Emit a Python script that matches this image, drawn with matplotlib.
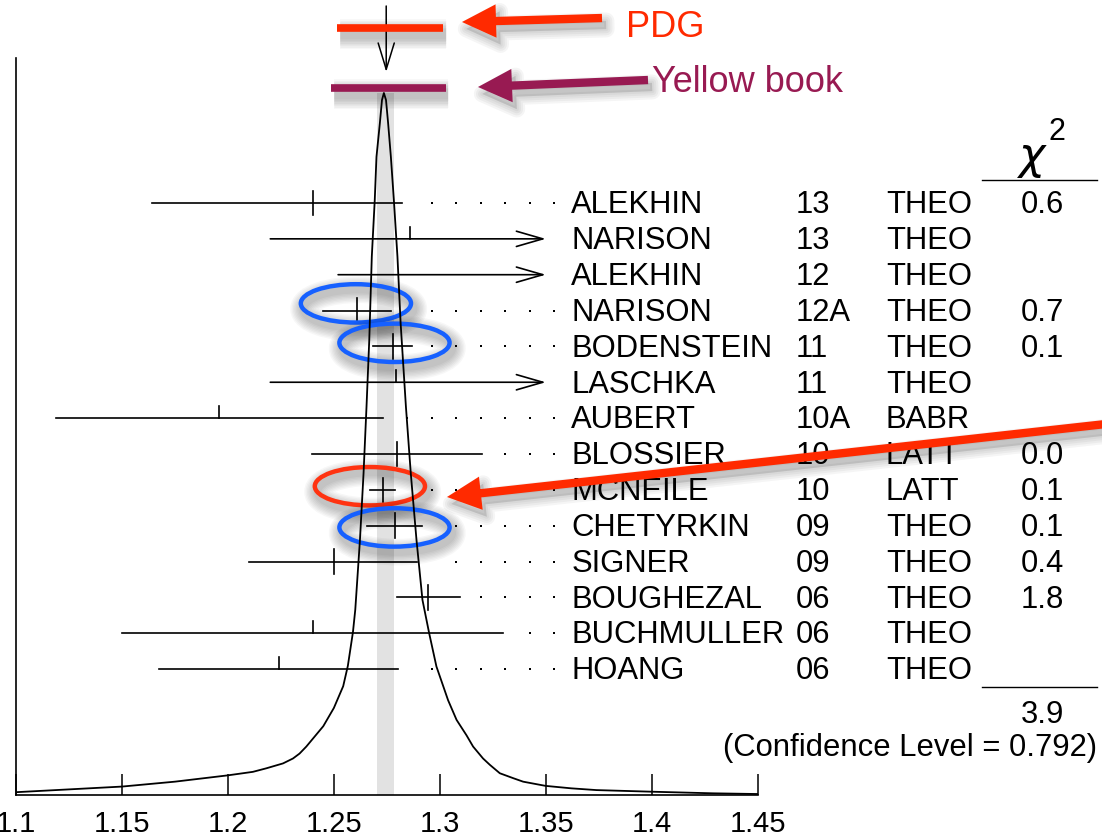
import numpy as np
import matplotlib
matplotlib.use('Agg')
import matplotlib.pyplot as plt
import matplotlib.patheffects as pe
from matplotlib.patches import Ellipse
from matplotlib.transforms import blended_transform_factory

plt.rcParams['font.family'] = ['Liberation Sans', 'DejaVu Sans']

# measurements, top to bottom
names = ['ALEKHIN', 'NARISON', 'ALEKHIN', 'NARISON', 'BODENSTEIN', 'LASCHKA', 'AUBERT',
         'BLOSSIER', 'MCNEILE', 'CHETYRKIN', 'SIGNER', 'BOUGHEZAL', 'BUCHMULLER', 'HOANG']
years = ['13', '13', '12', '12A', '11', '11', '10A', '10', '10', '09', '09', '06', '06', '06']
techs = ['THEO', 'THEO', 'THEO', 'THEO', 'THEO', 'THEO', 'BABR',
         'LATT', 'LATT', 'THEO', 'THEO', 'THEO', 'THEO', 'THEO']
chi2 = ['0.6', '', '', '0.7', '0.1', '', '', '0.0', '0.1', '0.1', '0.4', '1.8', '', '']
central = [1.240, 1.286, np.nan, 1.261, 1.278, 1.2795, 1.196,
           1.2796, 1.273, 1.279, 1.250, 1.2944, 1.240, 1.224]
low = [1.164, 1.220, 1.252, 1.2448, 1.2687, 1.220, 1.119,
       1.2397, 1.267, 1.2658, 1.210, 1.2798, 1.150, 1.1673]
high = [1.282, np.nan, np.nan, 1.2768, 1.2869, np.nan, 1.2734,
        1.3197, 1.279, 1.2916, 1.2894, 1.3096, 1.3298, 1.2801]
chi2_total = '3.9'
conf_level = '0.792'

# ideogram (height relative to peak)
ideo_x = [1.100, 1.125, 1.150, 1.175, 1.200, 1.2118, 1.2181, 1.226, 1.2307, 1.2338,
          1.237, 1.245, 1.250, 1.2544, 1.2566, 1.259, 1.2601,
          1.2623, 1.2640, 1.2654, 1.2667, 1.2679, 1.2693, 1.2701, 1.2717, 1.2727, 1.2736,
          1.2746, 1.2756, 1.2769, 1.2783, 1.2800, 1.2815, 1.2840, 1.2863, 1.2890, 1.2918,
          1.2950, 1.2984, 1.3039, 1.3079, 1.3126, 1.3157, 1.3204, 1.3236, 1.3283, 1.3346,
          1.3393, 1.3499, 1.3620, 1.3739, 1.3999, 1.4289, 1.4499]
ideo_h = [0.004, 0.008, 0.012, 0.019, 0.028, 0.033, 0.038, 0.045, 0.052, 0.059,
          0.069, 0.098, 0.124, 0.155, 0.184, 0.232, 0.264,
          0.363, 0.458, 0.553, 0.648, 0.767, 0.848, 0.909, 0.957, 0.99, 1.0,
          0.99, 0.957, 0.909, 0.848, 0.767, 0.672, 0.553, 0.458, 0.363, 0.278,
          0.230, 0.183, 0.135, 0.107, 0.085, 0.069, 0.052, 0.043, 0.031, 0.024,
          0.019, 0.013, 0.0095, 0.007, 0.0047, 0.0024, 0.0014]

avg_band = (1.2705, 1.2786)
pdg_val, pdg_err = 1.2765, 0.025
yb_val, yb_err = 1.2757, 0.027
arrow_end = 1.35

xticks = [1.1, 1.15, 1.2, 1.25, 1.3, 1.35, 1.4, 1.45]
xtick_labels = ['1.1', '1.15', '1.2', '1.25', '1.3', '1.35', '1.4', '1.45']

# circled entries: (centre, row, colour)
circles = [(1.2604, 2.8, '#1660ff'), (1.2786, 3.9, '#1660ff'),
           (1.2670, 7.9, '#ff3311'), (1.2786, 9.05, '#1660ff')]

W, H = 1102, 840
fig = plt.figure(figsize=(W / 100, H / 100), dpi=100)
ax = fig.add_axes([16 / W, 45 / H, 741.7 / W, 737 / H])
ax.set_xlim(1.1, 1.45)
row_px = 35.85
ax.set_ylim((795 - 203) / row_px, (58 - 203) / row_px)
for s in ['top', 'right']:
    ax.spines[s].set_visible(False)
for s in ['left', 'bottom']:
    ax.spines[s].set_linewidth(1.2)
ax.set_yticks([])
ax.set_xticks(xticks)
ax.set_xticklabels(xtick_labels)
ax.tick_params(axis='x', direction='in', length=15, width=1.1, labelsize=21, pad=11)

peak_frac = 702 / 737
ax.axvspan(avg_band[0], avg_band[1], ymin=0, ymax=peak_frac, color='#e2e2e2', lw=0, zorder=0)

ax2 = ax.twinx()
ax2.set_ylim(0, 1 / peak_frac)
ax2.axis('off')
ax2.plot(ideo_x, ideo_h, color='black', lw=1.3)


def soft_shadow(lw):
    eff = [pe.Stroke(linewidth=lw + w, foreground='black', alpha=0.03, offset=(2, -4))
           for w in range(2, 18, 2)]
    return eff + [pe.Normal()]


def patch_shadow():
    eff = [pe.SimplePatchShadow(offset=(3, -5), shadow_rgbFace='black', alpha=0.12)]
    eff += [pe.SimpleLineShadow(offset=(3, -5), shadow_color='black', alpha=0.04, linewidth=w)
            for w in (3, 6, 9, 12)]
    return eff + [pe.Normal()]


tick_half = 0.34
dot_grid = 1.2847 + 0.01156 * np.arange(7)
for i in range(len(names)):
    lo, hi, c = low[i], high[i], central[i]
    if np.isnan(hi):
        ax.annotate('', xy=(arrow_end, i), xytext=(lo, i), annotation_clip=False,
                    arrowprops=dict(arrowstyle='->,head_length=1.9,head_width=0.55',
                                    lw=1.2, color='black', shrinkA=0, shrinkB=0,
                                    mutation_scale=10))
    else:
        ax.plot([lo, hi], [i, i], color='black', lw=1.2)
        xs = dot_grid[dot_grid > hi + 0.0085]
        ax.plot(xs, [i] * len(xs), ls='none', marker='s', ms=1.5, color='black', mew=0)
    if not np.isnan(c):
        if chi2[i]:
            ax.plot([c, c], [i - tick_half, i + tick_half], color='black', lw=1.2)
        else:
            ax.plot([c, c], [i - tick_half, i], color='black', lw=1.2)

for cx, cy, col in circles:
    e = Ellipse((cx, cy), 0.052, 1.07, fill=False, ec=col, lw=3.2, zorder=5)
    e.set_path_effects(soft_shadow(3.2))
    ax.add_patch(e)

# table to the right
tr = blended_transform_factory(fig.transFigure, ax.transData)
base = 0.287
for i in range(len(names)):
    ax.text(571.4 / W, i + base, names[i], transform=tr, fontsize=22.3, va='baseline', ha='left')
    ax.text(796 / W, i + base, years[i], transform=tr, fontsize=22.3, va='baseline', ha='left')
    ax.text(886 / W, i + base, techs[i], transform=tr, fontsize=22.3, va='baseline', ha='left')
    if chi2[i]:
        ax.text(1064 / W, i + base, chi2[i], transform=tr, fontsize=22.3, va='baseline',
                ha='right')

ax.text(1033 / W, (169 - 203) / row_px, r'$\chi$', transform=tr, fontsize=32,
        va='baseline', ha='center')
ax.text(1048 / W, (140 - 203) / row_px, '2', transform=tr, fontsize=22,
        va='baseline', ha='left')
ax.plot([982 / W, 1097 / W], [(180 - 203) / row_px] * 2, transform=tr, color='black',
        lw=1.0, clip_on=False)
ax.plot([982 / W, 1097 / W], [(686.7 - 203) / row_px] * 2, transform=tr, color='black',
        lw=1.0, clip_on=False)
ax.text(1064 / W, (723 - 203) / row_px, chi2_total, transform=tr, fontsize=22.3,
        va='baseline', ha='right')
ax.text(1097 / W, (756 - 203) / row_px, '(Confidence Level = %s)' % conf_level,
        transform=tr, fontsize=22.3, va='baseline', ha='right')

# PDG / Yellow book bars above the plot
pdg_col = '#ff2a00'
yb_col = '#981a52'
ax.plot([pdg_val - pdg_err, pdg_val + pdg_err], [(28 - 203) / row_px] * 2, color=pdg_col,
        lw=5.5, solid_capstyle='butt', clip_on=False, path_effects=soft_shadow(5.5), zorder=4)
ax.plot([yb_val - yb_err, yb_val + yb_err], [(88 - 203) / row_px] * 2, color=yb_col,
        lw=5.5, solid_capstyle='butt', clip_on=False, path_effects=soft_shadow(5.5), zorder=4)
ax.annotate('', xy=(1.2747, (72 - 203) / row_px), xytext=(1.2747, (6 - 203) / row_px),
            annotation_clip=False,
            arrowprops=dict(arrowstyle='->,head_length=1.9,head_width=0.58', lw=1.1,
                            color='black', shrinkA=0, shrinkB=0, mutation_scale=10))

big = 'simple,head_length=2.45,head_width=2.4,tail_width=0.6'
for tip, tail, col in [((462, H - 22), (602, H - 18), pdg_col),
                       ((478, H - 87), (648, H - 80), yb_col),
                       ((447, H - 497), (1115, H - 423), pdg_col)]:
    a = ax.annotate('', xy=tip, xycoords='figure pixels', xytext=tail,
                    textcoords='figure pixels', annotation_clip=False,
                    arrowprops=dict(arrowstyle=big, fc=col, ec='none', shrinkA=0, shrinkB=0,
                                    mutation_scale=10))
    a.arrow_patch.set_path_effects(patch_shadow())
    a.set_zorder(6)

ax.text(626 / W, (37 - 203) / row_px, 'PDG', transform=tr, fontsize=26, color=pdg_col,
        va='baseline', ha='left')
ax.text(651.7 / W, (91.7 - 203) / row_px, 'Yellow book', transform=tr, fontsize=26,
        color=yb_col, va='baseline', ha='left')

fig.savefig('out.png', dpi=100)
